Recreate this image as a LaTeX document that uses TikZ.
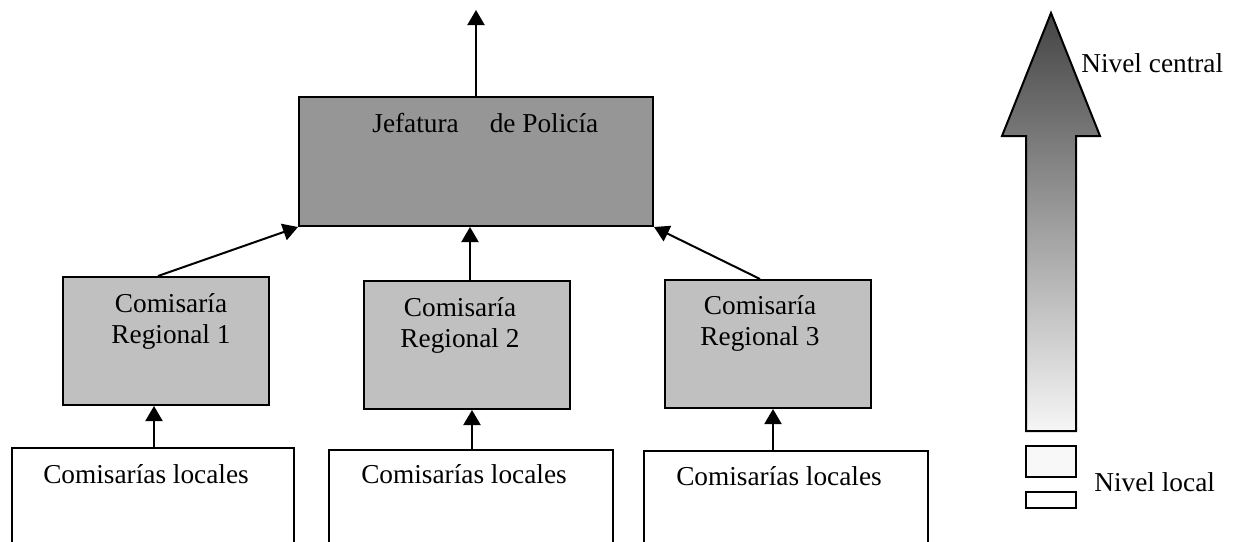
\documentclass[tikz,border=0pt]{standalone}
\usepackage{fontspec}
\setmainfont{Liberation Serif}
\usetikzlibrary{arrows.meta}
\definecolor{jefgray}{RGB}{150,150,150}
\definecolor{reggray}{RGB}{192,192,192}
\definecolor{arrdark}{RGB}{68,68,68}
\definecolor{arrlight}{RGB}{246,246,246}
\definecolor{smallfill}{RGB}{248,248,248}
\begin{document}
\begin{tikzpicture}[x=0.5pt,y=-0.5pt,
  every node/.style={font=\fontsize{13.65pt}{15.5pt}\selectfont},
  box/.style={draw, line width=1pt, inner sep=0pt, anchor=north west},
  jefbox/.style={box, fill=jefgray, minimum width=177pt, minimum height=64.5pt},
  regbox/.style={box, fill=reggray, minimum width=103pt, minimum height=64pt},
  locbox/.style={box, fill=white, minimum height=65pt},
  lbl/.style={inner sep=0pt, anchor=base west},
  clbl/.style={inner sep=0pt, anchor=base},
  arr/.style={line width=1pt, -{Triangle[length=7.5pt,width=8.5pt]}}
]
\useasboundingbox (0,0) rectangle (1241,541);
\clip (0,0) rectangle (1241,541);

% boxes
\node[jefbox] (jef) at (298,96) {};
\node[regbox] (reg1) at (62,276) {};
\node[regbox] (reg2) at (363,280) {};
\node[regbox] (reg3) at (664,279) {};
\node[locbox, minimum width=141pt] (loc1) at (11,447) {};
\node[locbox, minimum width=142pt] (loc2) at (328,449) {};
\node[locbox, minimum width=142pt] (loc3) at (643,450) {};

% texts
\node[lbl] (tjef) at (372,132) {Jefatura\hspace{15.5pt}de Policía};
\node[clbl] (tr1a) at (171,312) {Comisaría};
\node[clbl] (tr1b) at (171,343) {Regional 1};
\node[clbl] (tr2a) at (460,316) {Comisaría};
\node[clbl] (tr2b) at (460,347) {Regional 2};
\node[clbl] (tr3a) at (760,314) {Comisaría};
\node[clbl] (tr3b) at (760,345) {Regional 3};
\node[clbl] (tl1) at (146,483) {Comisarías locales};
\node[clbl] (tl2) at (464,483) {Comisarías locales};
\node[clbl] (tl3) at (779,485) {Comisarías locales};

% connectors
\coordinate (up) at (476,10);
\draw[arr] (jef.north -| 476,0) -- (up);
\draw[arr] (reg1.north -| 158,0) -- (jef.south west);
\draw[arr] (reg2.north -| 470,0) -- (jef.south -| 470,0);
\draw[arr] (reg3.north -| 760,0) -- (jef.south east);
\draw[arr] (loc1.north -| 154,0) -- (reg1.south -| 154,0);
\draw[arr] (loc2.north -| 472,0) -- (reg2.south -| 472,0);
\draw[arr] (loc3.north -| 773,0) -- (reg3.south -| 773,0);

% level arrow
\path[draw, line width=1pt, line join=miter, top color=arrdark, bottom color=arrlight]
  (1051,13) -- (1100,136) -- (1076,136) -- (1076,431) -- (1026,431)
  -- (1026,136) -- (1002,136) -- cycle;
\draw[line width=1pt, fill=smallfill] (1026,446) rectangle (1076,477);
\draw[line width=1pt, fill=white] (1026,492) rectangle (1076,508);
\node[lbl] (tcentral) at (1081,72) {Nivel central};
\node[lbl] (tlocal) at (1094,491) {Nivel local};
\end{tikzpicture}
\end{document}
